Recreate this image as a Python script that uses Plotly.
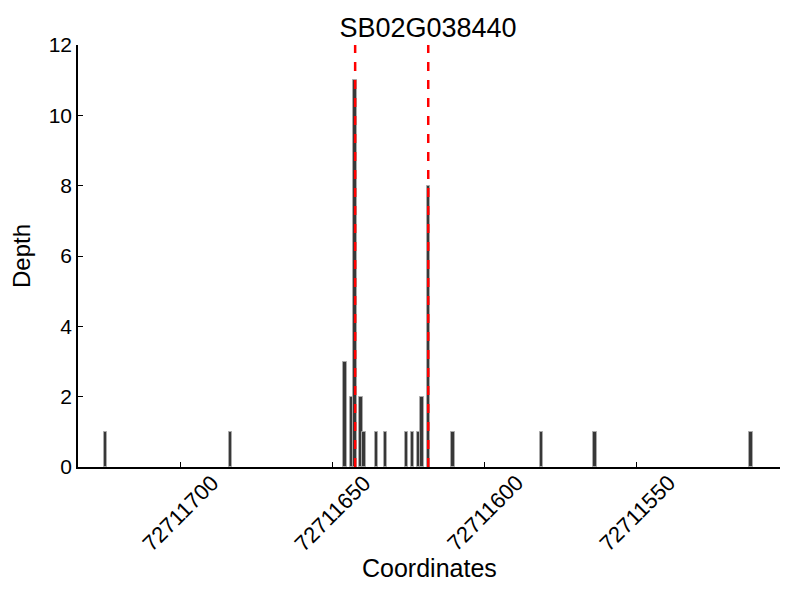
import plotly.graph_objects as go

title = "SB02G038440"
positions = [72711724.5, 72711683.5, 72711645.8, 72711643.6, 72711642.5, 72711640.6,
             72711639.6, 72711635.4, 72711632.5, 72711625.6, 72711623.6, 72711621.7,
             72711620.6, 72711618.5, 72711610.4, 72711581.4, 72711563.7, 72711512.5]
depths = [1, 1, 3, 2, 11, 2, 1, 1, 1, 1, 1, 1, 2, 8, 1, 1, 1, 1]
gene_bounds = [72711642.5, 72711618.5]
x_ticks = [72711700, 72711650, 72711600, 72711550]
x_tick_labels = ["72711700", "72711650", "72711600", "72711550"]
y_ticks = [0, 2, 4, 6, 8, 10, 12]

fig = go.Figure()
fig.add_trace(go.Bar(x=positions, y=depths, width=1.1,
                     marker=dict(color="#383838", line=dict(color="#aaaaaa", width=1)),
                     showlegend=False))
for b in gene_bounds:
    fig.add_trace(go.Scatter(x=[b, b], y=[0, 12], mode="lines",
                             line=dict(color="#ff0000", width=2.5, dash="dash"),
                             showlegend=False, cliponaxis=False))

font = "Liberation Sans, Arial, sans-serif"
annotations = [dict(x=v, xref="x", y=0, yref="paper", yshift=-46, text=t,
                    textangle=-45, showarrow=False, xanchor="center", yanchor="middle",
                    font=dict(family=font, size=22, color="black"))
               for v, t in zip(x_ticks, x_tick_labels)]
annotations.append(dict(x=0.5, xref="paper", y=0, yref="paper", yshift=-101,
                        text="Coordinates", showarrow=False, xanchor="center",
                        yanchor="middle", font=dict(family=font, size=25, color="black")))

fig.update_layout(
    width=800, height=600,
    paper_bgcolor="white", plot_bgcolor="white",
    margin=dict(l=70, r=28, t=37, b=141, autoexpand=False),
    title=dict(text=title, x=0.525, xanchor="center", y=0.967, yanchor="middle",
               font=dict(family=font, size=27, color="black")),
    font=dict(family=font, color="black"),
    bargap=0,
    annotations=annotations,
)
fig.update_xaxes(range=[72711733.5, 72711503], tickvals=x_ticks, showticklabels=False,
                 ticks="inside", ticklen=5, tickcolor="black",
                 showline=True, linecolor="black", linewidth=1.5, mirror=False,
                 showgrid=False, zeroline=False, automargin=False)
fig.update_yaxes(range=[0, 12], tickvals=y_ticks,
                 ticks="inside", ticklen=5, tickcolor="black",
                 showline=True, linecolor="black", linewidth=1.5,
                 showgrid=False, zeroline=False, automargin=False,
                 tickfont=dict(size=21, family=font),
                 title=dict(text="Depth", font=dict(size=24, family=font), standoff=16))

fig.write_html("out.html")
